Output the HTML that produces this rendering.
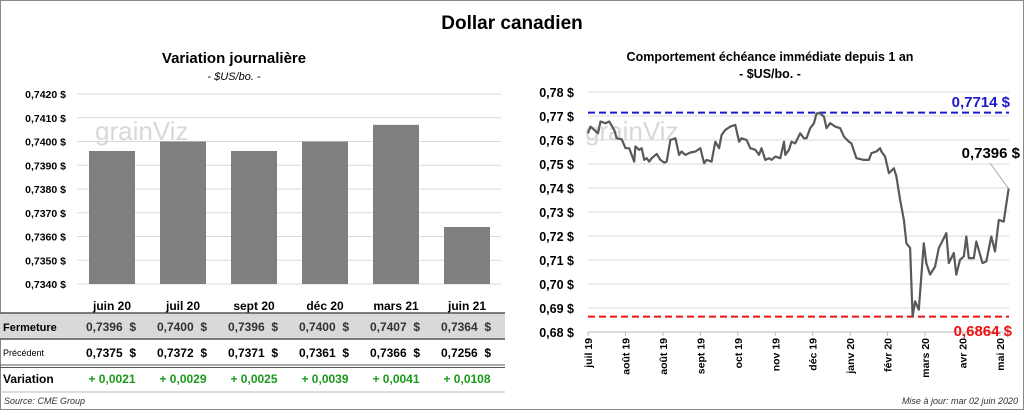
<!DOCTYPE html>
<html><head><meta charset="utf-8">
<style>
body{margin:0;width:1024px;height:410px;background:#fff;font-family:"Liberation Sans",sans-serif;overflow:hidden}
svg text{font-family:"Liberation Sans",sans-serif}
</style></head>
<body>
<svg id="s" width="1024" height="410" xmlns="http://www.w3.org/2000/svg">
<rect x="0.5" y="0.5" width="1023" height="409" fill="#fff" stroke="#888"/>
<text x="512" y="29" text-anchor="middle" font-size="19" font-weight="bold">Dollar canadien</text>
<text x="234" y="63" text-anchor="middle" font-size="15" font-weight="bold">Variation  journalière</text>
<text x="234" y="80" text-anchor="middle" font-size="11" font-style="italic">- $US/bo. -</text>
<text x="770" y="61" text-anchor="middle" font-size="12.5" font-weight="bold">Comportement échéance immédiate depuis 1 an</text>
<text x="770" y="78" text-anchor="middle" font-size="12.5" font-weight="bold">- $US/bo. -</text>
<g id="left"></g>
<g id="right"></g>
<g id="tbl"></g>
<text x="4" y="404" font-size="9" font-style="italic" fill="#333">Source: CME Group</text>
<text x="1018" y="404" text-anchor="end" font-size="9" font-style="italic" fill="#333">Mise à jour: mar 02 juin 2020</text>
</svg>
<script>
const NS="http://www.w3.org/2000/svg";
const barCats=["juin 20","juil 20","sept 20","déc 20","mars 21","juin 21"];
const barClose=[0.7396,0.7400,0.7396,0.7400,0.7407,0.7364];
const barPrev=[0.7375,0.7372,0.7371,0.7361,0.7366,0.7256];
const barVar=[0.0021,0.0029,0.0025,0.0039,0.0041,0.0108];
const barTicks=[0.7340,0.7350,0.7360,0.7370,0.7380,0.7390,0.7400,0.7410,0.7420];
const lineDays=[0,2,5,8,10,14,17,21,23,27,30,33,37,38,41,43,45,47,49,51,55,58,61,63,66,70,73,75,78,82,86,90,93,95,99,102,105,107,110,114,118,121,123,127,130,134,137,139,142,145,147,150,154,157,158,161,163,166,170,173,175,178,181,183,186,189,191,194,198,202,205,209,211,215,221,225,227,231,234,235,238,241,245,247,250,253,255,258,260,262,265,269,271,274,278,281,283,287,289,293,295,298,301,303,305,309,311,316,319,323,326,329,333,337];
const lineVals=[0.7628,0.7656,0.7642,0.7628,0.7677,0.7670,0.7677,0.7642,0.7607,0.7603,0.7566,0.7566,0.7510,0.7573,0.7559,0.7566,0.7517,0.7524,0.7510,0.7524,0.7542,0.7517,0.7506,0.7510,0.7600,0.7607,0.7538,0.7552,0.7538,0.7548,0.7552,0.7566,0.7503,0.7517,0.7510,0.7593,0.7566,0.7621,0.7642,0.7656,0.7663,0.7593,0.7607,0.7600,0.7566,0.7559,0.7538,0.7566,0.7517,0.7524,0.7517,0.7531,0.7524,0.7593,0.7538,0.7559,0.7593,0.7586,0.7628,0.7607,0.7607,0.7649,0.7670,0.7711,0.7711,0.7697,0.7649,0.7670,0.7656,0.7649,0.7614,0.7593,0.7586,0.7524,0.7517,0.7517,0.7545,0.7552,0.7566,0.7552,0.7531,0.7462,0.7482,0.7448,0.7351,0.7267,0.7170,0.7150,0.6865,0.6928,0.6893,0.7170,0.7087,0.7039,0.7073,0.7150,0.7170,0.7212,0.7087,0.7129,0.7039,0.7101,0.7115,0.7198,0.7108,0.7108,0.7177,0.7087,0.7094,0.7198,0.7136,0.7267,0.7260,0.7399];
const lineTickLabels=["juil 19","août 19","août 19","sept 19","oct 19","nov 19","déc 19","janv 20","févr 20","mars 20","avr 20","mai 20"];
const lineYTicks=[0.68,0.69,0.70,0.71,0.72,0.73,0.74,0.75,0.76,0.77,0.78];
const highVal=0.7714, lowVal=0.6864, lastVal=0.7396;

function el(t,a,p){const e=document.createElementNS(NS,t);for(const k in a)e.setAttribute(k,a[k]);p.appendChild(e);return e;}
const fmt=(v,d)=>v.toFixed(d).replace('.',',');

// left bar chart
const L=document.getElementById('left');
const ly=v=>94+(0.7420-v)/0.001*23.75;
const lx=i=>112+i*71;
barTicks.forEach(t=>{
  const g=el('line',{x1:77,x2:501,y1:ly(t),y2:ly(t),stroke:'#d9d9d9'},L);
  
  
  const tx=el('text',{x:66,y:ly(t)+4,'text-anchor':'end','font-size':10.5,'font-weight':'bold'},L);
  tx.textContent=fmt(t,4)+' $';
  
  
});
const wm=el('text',{x:95,y:140,'font-size':26,fill:'#d8d8d8'},L);wm.textContent='grainViz';


barClose.forEach((v,i)=>{
  const r=el('rect',{x:lx(i)-23,y:ly(v),width:46,height:ly(0.7340)-ly(v),fill:'#7f7f7f'},L);
  
  
});
// table
const T=document.getElementById('tbl');
el('rect',{x:0,y:313,width:505,height:26,fill:'#d9d9d9'},T);
el('line',{x1:0,x2:505,y1:313,y2:313,stroke:'#555','stroke-width':1.5},T);
el('line',{x1:0,x2:505,y1:339,y2:339,stroke:'#555','stroke-width':1.5},T);
el('line',{x1:0,x2:505,y1:365,y2:365,stroke:'#555','stroke-width':1},T);
el('line',{x1:0,x2:505,y1:367.5,y2:367.5,stroke:'#555','stroke-width':1},T);
el('line',{x1:0,x2:505,y1:392,y2:392,stroke:'#bbb','stroke-width':1},T);
const rl=[['Fermeture',331,11,'bold'],['Précédent',356,9,'normal'],['Variation',383,12,'bold']];
rl.forEach(r=>{const t=el('text',{x:3,y:r[1],'font-size':r[2],'font-weight':r[3]},T);t.textContent=r[0];
  
  });
barCats.forEach((c,i)=>{
  const h=el('text',{x:lx(i),y:310,'text-anchor':'middle','font-size':12,'font-weight':'bold'},T);h.textContent=c;
  
  
  const a=el('text',{x:lx(i)+24,y:331,'text-anchor':'end','font-size':12,'font-weight':'bold',fill:'#333'},T);a.textContent=fmt(barClose[i],4)+'\u00a0\u00a0$';
  
  
  const b=el('text',{x:lx(i)+24,y:357,'text-anchor':'end','font-size':12,'font-weight':'bold'},T);b.textContent=fmt(barPrev[i],4)+'\u00a0\u00a0$';
  
  
  const d=el('text',{x:lx(i),y:383,'text-anchor':'middle','font-size':12,'font-weight':'bold',fill:'#1a9a1a'},T);d.textContent='+ '+fmt(barVar[i],4);
  
  
});

// right line chart
const R=document.getElementById('right');
const ry=v=>92+(0.78-v)/0.01*24;
const rx=d=>588+d*(412/330);
lineYTicks.forEach(t=>{
  const g=el('line',{x1:588,x2:1009,y1:ry(t),y2:ry(t),stroke:'#d9d9d9'},R);
  
  
  const tx=el('text',{x:574,y:ry(t)+5,'text-anchor':'end','font-size':12.5,'font-weight':'bold'},R);tx.textContent=fmt(t,2)+' $';
  
  
});
el('line',{x1:588,x2:1009,y1:ry(0.68),y2:ry(0.68),stroke:'#bbb'},R);
const wm2=el('text',{x:585,y:140,'font-size':26,fill:'#d8d8d8'},R);wm2.textContent='grainViz';


lineTickLabels.forEach((l,i)=>{
  const x=rx(i*30);
  el('line',{x1:x,x2:x,y1:ry(0.68),y2:ry(0.68)+4,stroke:'#bbb'},R);
  const t=el('text',{transform:`translate(${x+4},${ry(0.68)+6}) rotate(-90)`,'text-anchor':'end','font-size':10.5,'font-weight':'bold'},R);t.textContent=l;
  
  
});
const hl=el('line',{x1:588,x2:1009,y1:ry(highVal),y2:ry(highVal),stroke:'#1a1acc','stroke-width':2,'stroke-dasharray':'7,4'},R);


const ll=el('line',{x1:588,x2:1009,y1:ry(lowVal),y2:ry(lowVal),stroke:'#ee1111','stroke-width':2,'stroke-dasharray':'7,4'},R);


const p=el('polyline',{points:lineDays.map((d,i)=>rx(d).toFixed(1)+','+ry(lineVals[i]).toFixed(1)).join(' '),fill:'none',stroke:'#595959','stroke-width':2.2,'stroke-linejoin':'round'},R);


const ht=el('text',{x:1010,y:107,'text-anchor':'end','font-size':15,'font-weight':'bold',fill:'#1a1acc'},R);ht.textContent=fmt(highVal,4)+' $';


const lt=el('text',{x:1012,y:336,'text-anchor':'end','font-size':15,'font-weight':'bold',fill:'#ee1111'},R);lt.textContent=fmt(lowVal,4)+' $';


const lastX=rx(lineDays[lineDays.length-1]);
el('line',{x1:lastX,y1:ry(lastVal),x2:990,y2:163,stroke:'#aaa'},R);
const ct=el('text',{x:1020,y:158,'text-anchor':'end','font-size':15,'font-weight':'bold'},R);ct.textContent=fmt(lastVal,4)+' $';


</script>
</body></html>
